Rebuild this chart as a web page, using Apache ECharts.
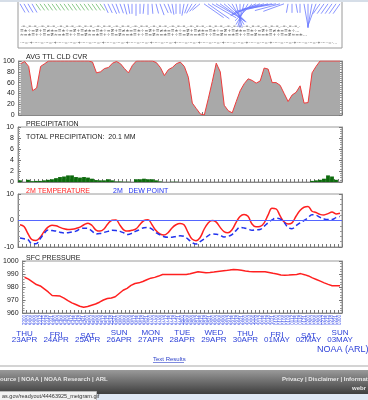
<!DOCTYPE html>
<html><head><meta charset="utf-8">
<script src="https://cdn.jsdelivr.net/npm/echarts@6/dist/echarts.min.js"></script>
<style>html,body{margin:0;padding:0;background:#fff;overflow:hidden}#c{width:368px;height:400px}</style>
</head><body><div id="c"></div>
<script>
// ---------- data ----------
const dayNames = ['THU','FRI','SAT','SUN','MON','TUE','WED','THU','FRI','SAT','SUN'];
const dayDates = ['23APR','24APR','25APR','26APR','27APR','28APR','29APR','30APR','01MAY','02MAY','03MAY'];
const hourLabels = ['00','03','06','09','12','15','18','21'];

const cloudCover = [95,99,90,45,50,90,95,100,100,100,
 100,100,100,100,100,100,100,100,98,78,
 80,86,88,96,99,95,86,78,92,100,
 100,100,100,100,97,88,73,84,88,95,
 98,90,70,22,12,2,0,30,62,96,
 80,18,8,4,25,45,58,67,64,59,
 63,87,85,60,60,55,40,25,37,42,
 54,22,23,78,90,100,100,100,100,100,
 100];

const precip = [0.3,0,0.4,0.15,0.2,0.2,0.3,0.4,0.5,0.7,
 0.9,1.0,1.2,1.2,0.9,0.8,0.9,0.8,0.6,0.35,
 0.3,0.3,0.5,0.3,0.1,0.1,0.05,0.05,0,0.5,
 0.5,0.6,0.5,0.5,0.3,0.1,0,0,0.05,0.05,
 0,0,0,0,0,0,0,0,0,0,
 0,0,0,0,0,0,0,0,0,0,
 0,0,0,0,0,0,0,0,0,0,
 0,0,0,0.2,0.3,0.4,0.6,1.2,1.0,0.4,
 0];

const temp2m = [-1.6,-2.3,-5.0,-7.2,-7.5,-6.4,-4.2,-2.5,-1.8,-2.0,
 -2.6,-3.1,-3.4,-3.3,-3.0,-2.5,-1.6,-1.0,-1.9,-3.6,
 -4.0,-3.2,-1.2,0.1,0.2,-1.8,-3.6,-4.0,-3.7,-3.2,
 -1.5,0.0,0.3,-1.6,-3.8,-5.1,-5.5,-4.6,-2.8,-1.6,
 -1.1,-1.6,-4.5,-7.0,-7.6,-6.5,-3.4,-1.0,0.0,-0.5,
 -2.5,-4.2,-4.6,-3.5,-0.8,1.5,2.3,1.6,-1.3,-2.4,
 -2.3,-1.0,2.0,4.6,4.4,1.8,-0.5,-1.3,-0.9,1.6,
 3.8,5.0,5.3,3.5,3.0,2.3,2.1,2.6,3.2,2.5,
 2.7];

const dewPoint = [-6.6,-6.9,-7.2,-8.8,-8.8,-7.0,-5.0,-3.6,-3.8,-4.0,
 -4.4,-4.7,-4.6,-4.3,-4.0,-3.2,-2.9,-3.0,-4.0,-5.1,
 -4.9,-4.5,-4.1,-3.7,-3.8,-4.1,-4.7,-5.3,-4.8,-4.0,
 -3.4,-2.7,-2.6,-3.3,-4.6,-5.4,-6.1,-6.3,-6.3,-6.0,
 -5.8,-6.0,-7.0,-8.3,-8.9,-8.0,-7.0,-5.8,-5.1,-5.2,
 -5.5,-6.2,-6.0,-5.3,-3.8,-2.6,-2.8,-3.2,-3.7,-3.5,
 -3.4,-2.2,-0.9,0.2,0.9,0.6,-0.6,-2.6,-3.1,-2.0,
 -0.9,0.0,1.0,2.2,2.0,1.2,0.6,0.4,0.4,1.1,
 1.5];

const sfcPressure = [987.5,986,984,981.9,980.8,978.5,976.2,973.5,973.3,973.0,
 971.5,969.5,967.8,966.5,965.2,964.5,965.0,966.0,966.9,968.3,
 970.0,971.1,971.6,972.5,975.0,977.5,979.0,981.2,982.7,983.2,
 984.2,985.6,986.8,987.4,988.4,989.6,989.7,989.7,989.7,989.7,
 989.7,989.7,990.2,991,991.8,991.4,991,991.2,991.5,991.9,
 992.3,992.6,993,993.5,993.2,992.8,992.3,992,991.8,991.8,
 991.8,991.8,991.2,990.5,990,989.2,989,989.2,989.5,989.7,
 990.3,989.5,988.5,987,985.8,984.5,983.2,982,981,980.9,
 980.9];

const windDir = [30,30,30,30,
 35,35,35,35,35,35,35,35,35,35,35,35,35,35,35,35,35,
 25,25,25,20,20,15,10,0,0,0,-5,0,5,15,20,25,20,10,0,0,-10,-20,-30,-40,-50,
 55,55,60,60,55,50,45,
 30,15,0,-15,-30,-45,
 -65,-70,-75,-75,-80,-80,-75,-70,
 -10,0,10,0,
 10,0,-10,-20,
 -35,-35,-35,-35,-35,-35];
const windSpeed = [10,10,10,10,
 8,8,8,8,8,8,8,8,8,8,8,8,8,8,8,8,8,
 10,10,11,10,10,11,10,10,12,10,10,11,10,10,12,10,10,11,10,10,12,10,11,10,10,
 24,26,28,30,30,28,26,
 24,24,24,24,24,24,
 28,30,30,30,30,28,26,22,
 9,9,9,9,
 24,24,24,24,
 12,12,12,12,12,12];

const totalPrecipText = 'TOTAL PRECIPITATION:  20.1 MM';

// ---------- build ----------
const cats = [];
dayDates.forEach((d, k) => {
  hourLabels.forEach((h, j) => { if (k < dayDates.length - 1 || j === 0) cats.push(d.slice(0, 2) + h); });
});

const FONT = 'Liberation Sans, Arial, sans-serif';
const BLUE = '#2b3fd8';
const labelDrop = [3, 5, 6, 0, 0, 1, 1, 3, 5, 6, 0];
const grids = [
  {top: -1, height: 49},
  {top: 61, height: 54},
  {top: 127, height: 55},
  {top: 194, height: 53},
  {top: 261, height: 52}
].map(g => Object.assign({left: 18, width: 324, show: true, borderColor: '#9a9a9a', borderWidth: 1, backgroundColor: 'transparent'}, g));

function xAx(gi, extra) {
  return Object.assign({
    type: 'category', gridIndex: gi, data: cats, boundaryGap: true, position: 'bottom',
    axisLine: {show: true, onZero: false, lineStyle: {color: '#888'}},
    axisTick: {show: gi > 0, inside: true, length: 3, interval: 0, lineStyle: {color: '#777'}},
    axisLabel: {show: false}, splitLine: {show: false}
  }, extra || {});
}
function yAx(gi, min, max, interval, pos, showLabel) {
  return {
    type: 'value', gridIndex: gi, min, max, interval, position: pos,
    axisLine: {show: true, lineStyle: {color: '#888'}},
    axisTick: {show: true, inside: true, length: 3, lineStyle: {color: '#777'}},
    minorTick: {show: true, splitNumber: 5, length: 2, lineStyle: {color: '#999'}},
    axisLabel: {show: showLabel, fontSize: 7, color: '#222', margin: 4, fontFamily: FONT, formatter: v => String(v)},
    splitLine: {show: false}
  };
}

const dayRich = {n: {fontSize: 8, lineHeight: 7, color: BLUE, fontFamily: FONT}};
[0,1,2,3,4,5,6].forEach(d => { dayRich['s' + d] = {padding: [d, 0, 0, 0], fontSize: 8, lineHeight: 7, color: BLUE, fontFamily: FONT}; });

const xAxes = [
  xAx(0, {axisLine: {show: false, onZero: false}}),
  xAx(1), xAx(2), xAx(3),
  xAx(4, {axisLabel: {show: true, interval: 0, rotate: 90, fontSize: 4.5, color: '#3a4ee8', margin: 2, fontFamily: FONT, hideOverlap: false}}),
  xAx(4, {position: 'bottom', offset: 0, axisLine: {show: false, onZero: false}, axisTick: {show: false},
    axisLabel: {show: true, margin: 16, interval: (idx) => idx % 8 === 0,
      formatter: (v, idx) => { const k = Math.round(idx / 8); return '{s' + labelDrop[k] + '|' + dayNames[k] + '}\n{n|' + dayDates[k] + '}'; },
      color: BLUE, fontSize: 8, lineHeight: 7, fontFamily: FONT, rich: dayRich
    }})
];

const yAxes = [
  {type: 'value', gridIndex: 0, min: 0, max: 10, show: false},
  yAx(1, 0, 100, 20, 'left', true),
  yAx(2, 0, 10, 2, 'left', true),
  yAx(3, -10, 10, 10, 'left', true),
  yAx(4, 960, 1000, 10, 'left', true),
  yAx(1, 0, 100, 20, 'right', false),
  yAx(2, 0, 10, 2, 'right', false),
  yAx(3, -10, 10, 10, 'right', false),
  yAx(4, 960, 1000, 10, 'right', false)
];

function rowText(pattern, n) { let s = ''; while (s.length < n) s += pattern; return s.slice(0, n); }

const graphics = [
  {type: 'rect', left: 0, top: 0, shape: {width: 368, height: 2}, style: {fill: '#d6dee8'}, z: 100},
  {type: 'text', left: 21, top: 24.5, style: {text: rowText('-=-_=--=_-', 150), fontSize: 3.5, fill: '#555', fontFamily: 'DejaVu Sans', width: 319, overflow: 'truncate'}},
  {type: 'text', left: 20, top: 28.5, style: {text: rowText('≡±÷=≢+≡≠±=', 140), fontSize: 4.5, fill: '#444', fontFamily: 'DejaVu Sans', width: 320, overflow: 'truncate'}},
  {type: 'text', left: 20, top: 32.5, style: {text: rowText('≈=±≡+÷≡=≢', 140), fontSize: 4.5, fill: '#444', fontFamily: 'DejaVu Sans', width: 320, overflow: 'truncate'}},
  {type: 'text', left: 20, top: 40.5, style: {text: rowText('-~=-+-~--=', 150), fontSize: 4, fill: '#555', fontFamily: 'DejaVu Sans', width: 320, overflow: 'truncate'}},
  {type: 'text', left: 26, top: 53.5, style: {text: 'AVG TTL CLD CVR', fontSize: 7, fill: '#222', fontFamily: FONT}},
  {type: 'text', left: 26, top: 120.5, style: {text: 'PRECIPITATION', fontSize: 7, fill: '#222', fontFamily: FONT}},
  {type: 'text', left: 26, top: 133.5, style: {text: totalPrecipText, fontSize: 7, fill: '#222', fontFamily: FONT}},
  {type: 'text', left: 26, top: 187.5, style: {text: '2M TEMPERATURE', fontSize: 7, fill: '#ff2222', fontFamily: FONT}},
  {type: 'text', left: 113, top: 187.5, style: {text: '2M   DEW POINT', fontSize: 7, fill: '#2233ee', fontFamily: FONT}},
  {type: 'text', left: 26, top: 254.5, style: {text: 'SFC PRESSURE', fontSize: 7, fill: '#222', fontFamily: FONT}},
  {type: 'text', left: 317, top: 345, style: {text: 'NOAA (ARL)', fontSize: 9, fill: BLUE, fontFamily: FONT}},
  {type: 'text', left: 153, top: 356, style: {text: 'Text Results', fontSize: 6, fill: '#2a3fc8', fontFamily: FONT}},
  {type: 'rect', left: 153, top: 362, shape: {width: 31, height: 0.6}, style: {fill: '#2a3fc8'}},
  {type: 'rect', left: 0, top: 365, shape: {width: 368, height: 2}, style: {fill: '#d4d4d4'}},
  {type: 'rect', left: 0, top: 370, shape: {width: 368, height: 24},
    style: {fill: new echarts.graphic.LinearGradient(0, 0, 0, 1, [{offset: 0, color: '#9a9a9a'}, {offset: 1, color: '#3e3e3e'}])}},
  {type: 'rect', left: 0, top: 394, shape: {width: 368, height: 6}, style: {fill: '#dfe8f4'}},
  {type: 'text', left: 0, top: 376, style: {text: 'ource | NOAA | NOAA Research | ARL', fontSize: 6, fill: '#e6e6e6', fontFamily: FONT, fontWeight: 'bold'}},
  {type: 'text', left: 282, top: 376, style: {text: 'Privacy | Disclaimer | Information Q', fontSize: 6, fill: '#e6e6e6', fontFamily: FONT, fontWeight: 'bold'}},
  {type: 'text', left: 352, top: 385, style: {text: 'webr', fontSize: 6, fill: '#e6e6e6', fontFamily: FONT, fontWeight: 'bold'}},
  {type: 'rect', left: -1, top: 391, shape: {width: 97, height: 10}, style: {fill: '#f2f2f2', stroke: '#b8b8b8', lineWidth: 1}},
  {type: 'text', left: 2, top: 393.5, style: {text: 'as.gov/readyout/44463925_metgram.gif', fontSize: 5.5, fill: '#333', fontFamily: FONT}}
];

const chart = echarts.init(document.getElementById('c'), null, {renderer: 'canvas'});
chart.setOption({
  animation: false,
  backgroundColor: '#fff',
  grid: grids,
  xAxis: xAxes,
  yAxis: yAxes,
  graphic: graphics,
  series: [
    {type: 'custom', xAxisIndex: 0, yAxisIndex: 0, clip: true,
      data: windDir.map((d, i) => [i, d, windSpeed[i]]),
      renderItem: (params, api) => {
        const p = api.coord([api.value(0), 9.2]);
        const a = api.value(1) * Math.PI / 180, s = api.value(2);
        return {type: 'line', shape: {x1: p[0], y1: p[1], x2: p[0] + Math.sin(a) * s, y2: p[1] + Math.cos(a) * s},
          style: {stroke: s < 9 ? '#6dbb6d' : '#6a78ff', lineWidth: 0.8}};
      }},
    {type: 'line', xAxisIndex: 1, yAxisIndex: 1, data: cloudCover, symbol: 'none',
      lineStyle: {color: '#ee3b3b', width: 1}, areaStyle: {color: '#a9a9a9', opacity: 1}},
    {type: 'bar', xAxisIndex: 2, yAxisIndex: 2, data: precip, barCategoryGap: '5%',
      itemStyle: {color: '#0c6a0c'}},
    {type: 'line', xAxisIndex: 3, yAxisIndex: 3, data: temp2m, symbol: 'none', smooth: 0.4,
      lineStyle: {color: '#ff2020', width: 1.5},
      markLine: {silent: true, symbol: 'none', label: {show: false}, data: [{yAxis: 0}],
        lineStyle: {color: '#5566ff', width: 1, type: 'solid'}}},
    {type: 'line', xAxisIndex: 3, yAxisIndex: 3, data: dewPoint, symbol: 'none', smooth: 0.4,
      lineStyle: {color: '#2233ee', width: 1.5, type: [5, 3]}},
    {type: 'line', xAxisIndex: 4, yAxisIndex: 4, data: sfcPressure, symbol: 'none',
      lineStyle: {color: '#ff2020', width: 1.5}}
  ]
});
</script></body></html>
